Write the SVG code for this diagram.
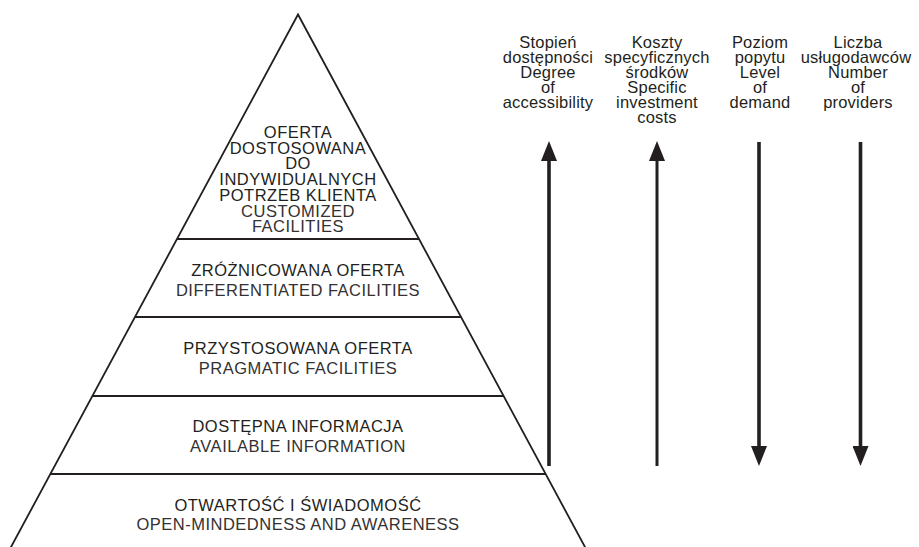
<svg xmlns="http://www.w3.org/2000/svg" width="919" height="547" viewBox="0 0 919 547">
<style>
.pl{font-family:"Liberation Sans",Arial,sans-serif;font-size:16.5px;fill:#231f20;text-anchor:middle;letter-spacing:0.5px}
.en{font-family:"Liberation Sans",Arial,sans-serif;font-size:16.5px;fill:#333132;text-anchor:middle;letter-spacing:0.5px}
.lb{font-family:"Liberation Sans",Arial,sans-serif;font-size:16.5px;fill:#231f20;text-anchor:middle;letter-spacing:0.2px}
.edge{stroke:#231f20;stroke-width:1.8;fill:none}
.div{stroke:#231f20;stroke-width:2.2;fill:none}
.arr{stroke:#231f20;stroke-width:3.6;fill:none}
</style>
<defs>
<marker id="ah" viewBox="0 0 16 20" refX="0" refY="10" markerWidth="16" markerHeight="20" markerUnits="userSpaceOnUse" orient="auto">
<path d="M0,2 L20,10 L0,18 Z" fill="#231f20"/>
</marker>
<marker id="ah2" viewBox="0 0 20 16" refX="0" refY="8" markerWidth="20" markerHeight="16" markerUnits="userSpaceOnUse" orient="auto">
<path d="M0,0 L20,8 L0,16 Z" fill="#231f20"/>
</marker>
</defs>
<rect width="919" height="547" fill="#ffffff"/>
<g id="pyramid">
<path class="edge" d="M9.4,550 L298,14.5 L586.6,550"/>
<line class="div" x1="177" y1="239" x2="419" y2="239"/>
<line class="div" x1="135" y1="317" x2="461" y2="317"/>
<line class="div" x1="92.4" y1="396" x2="503.6" y2="396"/>
<line class="div" x1="50.3" y1="474" x2="545.7" y2="474"/>
</g>
<g id="level5">
<text class="pl" x="298" y="137.7">OFERTA</text>
<text class="pl" x="298" y="153.5">DOSTOSOWANA</text>
<text class="pl" x="298" y="169.2">DO</text>
<text class="pl" x="298" y="185">INDYWIDUALNYCH</text>
<text class="pl" x="298" y="200.7">POTRZEB KLIENTA</text>
<text class="en" x="298" y="216.5">CUSTOMIZED</text>
<text class="en" x="298" y="232.2">FACILITIES</text>
</g>
<g id="level4">
<text class="pl" x="298" y="276">ZRÓŻNICOWANA OFERTA</text>
<text class="en" x="298" y="296">DIFFERENTIATED FACILITIES</text>
</g>
<g id="level3">
<text class="pl" x="298" y="354">PRZYSTOSOWANA OFERTA</text>
<text class="en" x="298" y="373.5">PRAGMATIC FACILITIES</text>
</g>
<g id="level2">
<text class="pl" x="298" y="432">DOSTĘPNA INFORMACJA</text>
<text class="en" x="298" y="451.5">AVAILABLE INFORMATION</text>
</g>
<g id="level1">
<text class="pl" x="298" y="511">OTWARTOŚĆ I ŚWIADOMOŚĆ</text>
<text class="en" x="298" y="530">OPEN-MINDEDNESS AND AWARENESS</text>
</g>
<g id="label-accessibility">
<text class="lb" x="548" y="48.3">Stopień</text>
<text class="lb" x="548" y="63.3">dostępności</text>
<text class="lb" x="548" y="78.3">Degree</text>
<text class="lb" x="548" y="93.3">of</text>
<text class="lb" x="548" y="108.3">accessibility</text>
</g>
<g id="label-costs">
<text class="lb" x="657" y="48.3">Koszty</text>
<text class="lb" x="657" y="63.3">specyficznych</text>
<text class="lb" x="657" y="78.3">środków</text>
<text class="lb" x="657" y="93.3">Specific</text>
<text class="lb" x="657" y="108.3">investment</text>
<text class="lb" x="657" y="123.3">costs</text>
</g>
<g id="label-demand">
<text class="lb" x="760" y="48.3">Poziom</text>
<text class="lb" x="760" y="63.3">popytu</text>
<text class="lb" x="760" y="78.3">Level</text>
<text class="lb" x="760" y="93.3">of</text>
<text class="lb" x="760" y="108.3">demand</text>
</g>
<g id="label-providers">
<text class="lb" x="858" y="48.3">Liczba</text>
<text class="lb" x="856" y="63.3">usługodawców</text>
<text class="lb" x="858" y="78.3">Number</text>
<text class="lb" x="858" y="93.3">of</text>
<text class="lb" x="858" y="108.3">providers</text>
</g>
<g id="connectors">
<line class="arr" x1="549" y1="466" x2="549" y2="161" marker-end="url(#ah2)"/>
<line class="arr" x1="657" y1="466" x2="657" y2="161" style="stroke-width:3" marker-end="url(#ah2)"/>
<line class="arr" x1="759" y1="142" x2="759" y2="446" marker-end="url(#ah2)"/>
<line class="arr" x1="860.5" y1="142" x2="860.5" y2="446" marker-end="url(#ah2)"/>
</g>
</svg>
